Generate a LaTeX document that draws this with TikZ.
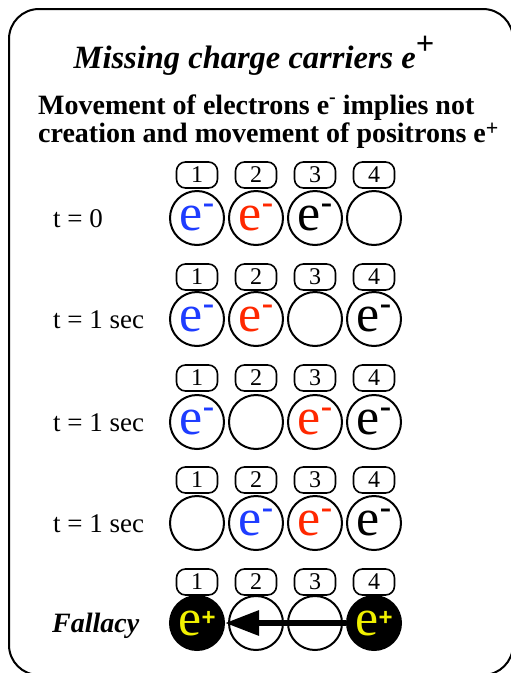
\documentclass[tikz,border=0pt]{standalone}
\usepackage{fontspec}
\setmainfont{Liberation Serif}
\setsansfont{Liberation Sans}
\usetikzlibrary{arrows.meta}
\definecolor{eblue}{RGB}{30,60,255}
\definecolor{ered}{RGB}{255,40,0}
\definecolor{eyel}{RGB}{240,240,0}
\newcommand\fs[1]{\fontsize{#1}{#1}\selectfont}
\newcommand\elec{e\raisebox{17pt}{\fs{34}\bfseries -}}
\newcommand\posi{e\raisebox{10pt}{\fs{24}\sffamily\bfseries +}}
\begin{document}
\begin{tikzpicture}[x=1pt,y=-1pt,
  cell/.style={circle,draw,line width=2pt,minimum size=54pt,inner sep=0pt,font=\fs{52}},
  num/.style={draw,rounded corners=9pt,line width=1.6pt,minimum width=41pt,minimum height=26pt,inner sep=0pt,font=\fs{24}},
  rowlab/.style={anchor=base west,inner sep=0pt,font=\fs{27}},
  frame/.style={line width=2pt,rounded corners=30pt}]
\useasboundingbox (0,0) rectangle (511,673);
\begin{scope}
\clip (0,0) rectangle (511,673);
\draw[frame] (9,9) rectangle (513,675);
\end{scope}
\node[anchor=base,inner sep=0pt,font=\fs{32.5}\bfseries\itshape] (title) at (254,68) {Missing charge carriers e\raisebox{14pt}{\upshape +}};
\node[anchor=base west,inner sep=0pt,font=\fs{28}\bfseries] (sub1) at (38,114.5) {Movement of electrons e\raisebox{11pt}{\fs{20}-} implies not};
\node[anchor=base west,inner sep=0pt,font=\fs{28}\bfseries] (sub2) at (38,142.5) {creation and movement of positrons e\raisebox{7pt}{\fs{22}+}};
% row labels
\node[rowlab] (t1) at (53,227) {t = 0};
\node[rowlab] (t2) at (53,328) {t = 1 sec};
\node[rowlab] (t3) at (53,431) {t = 1 sec};
\node[rowlab] (t4) at (53,532) {t = 1 sec};
\node[rowlab,font=\fs{28}\bfseries\itshape] (t5) at (52,632) {Fallacy};
% number boxes
\foreach \r/\yb in {1/175,2/277,3/378,4/480,5/582}{
  \foreach \i/\xc in {1/197,2/256,3/315,4/374}{
    \node[num] (n\r\i) at (\xc,\yb) {\i};
  }
}
% row 1
\node[cell,text=eblue] (c11) at (197,218) {\elec};
\node[cell,text=ered] (c12) at (256,218) {\elec};
\node[cell] (c13) at (315,218) {\elec};
\node[cell] (c14) at (374,218) {};
% row 2
\node[cell,text=eblue] (c21) at (197,319) {\elec};
\node[cell,text=ered] (c22) at (256,319) {\elec};
\node[cell] (c23) at (315,319) {};
\node[cell] (c24) at (374,319) {\elec};
% row 3
\node[cell,text=eblue] (c31) at (197,422) {\elec};
\node[cell] (c32) at (256,422) {};
\node[cell,text=ered] (c33) at (315,422) {\elec};
\node[cell] (c34) at (374,422) {\elec};
% row 4
\node[cell] (c41) at (197,523) {};
\node[cell,text=eblue] (c42) at (256,523) {\elec};
\node[cell,text=ered] (c43) at (315,523) {\elec};
\node[cell] (c44) at (374,523) {\elec};
% row 5
\node[cell,fill=black,text=eyel] (c51) at (197,623) {\posi};
\node[cell] (c52) at (256,623) {};
\node[cell] (c53) at (315,623) {};
\node[cell,fill=black,text=eyel] (c54) at (374,623) {\posi};
\draw[line width=6pt,-{Triangle[length=34pt,width=24pt]}] (c54.west) -- (c51.east);
\end{tikzpicture}
\end{document}
